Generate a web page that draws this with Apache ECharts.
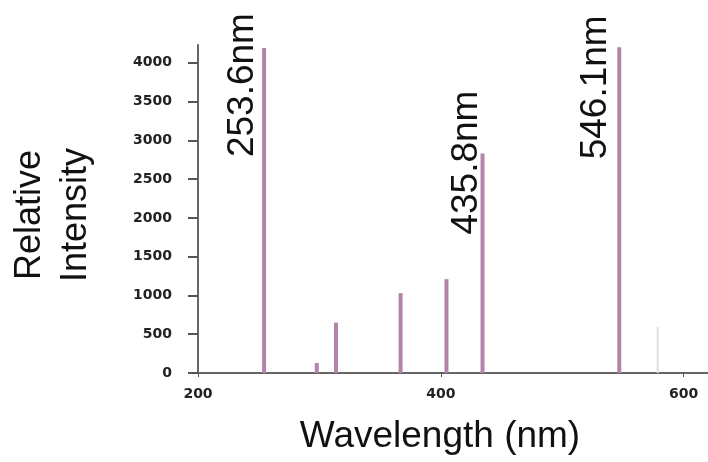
<!DOCTYPE html>
<html>
<head>
<meta charset="utf-8">
<script src="https://cdn.jsdelivr.net/npm/echarts@6/dist/echarts.min.js"></script>
<style>
  html, body { margin: 0; padding: 0; background: #fff; }
  #chart { width: 708px; height: 462px; }
</style>
</head>
<body>
<div id="chart"></div>
<script>
// 谱线数据
const wavelengths = [253.6, 297, 312.8, 366, 403.8, 433.5, 546.1]
const intensities = [4190, 130, 650, 1030, 1210, 2830, 4200]
const peakNames = ['253.6nm', '', '', '', '', '435.8nm', '546.1nm']
// 很淡的那条线
const faintWavelengths = [578.6]
const faintIntensities = [600]
// 刻度
const xTicks = [200, 400, 600]
const yTicks = [0, 500, 1000, 1500, 2000, 2500, 3000, 3500, 4000]

// 标注文字相对于柱顶的偏移
const labelOffsets = {
  '253.6nm': [35, -21],
  '435.8nm': [63, -16],
  '546.1nm': [32, -23],
}

const chart = echarts.init(document.getElementById('chart'))

const tickFont = {
  fontFamily: 'DejaVu Sans',
  fontWeight: 'bold',
  fontSize: 14,
  color: '#222',
  formatter: (v) => String(v),
}

const options = {
  animation: false,
  backgroundColor: '#fff',
  grid: { left: 198, right: 0, top: 45, bottom: 89, containLabel: false, outerBoundsMode: 'none' },
  xAxis: {
    type: 'value',
    min: 200,
    max: 620,
    interval: 200,
    name: 'Wavelength (nm)',
    nameLocation: 'middle',
    nameGap: 45,
    nameTextStyle: {
      fontFamily: 'Liberation Sans',
      fontSize: 37,
      color: '#111',
      padding: [0, 26, 0, 0],
    },
    axisLine: { lineStyle: { color: '#666', width: 2 } },
    axisTick: { show: true, length: 4, customValues: xTicks, lineStyle: { color: '#555' } },
    axisLabel: { ...tickFont, margin: 14, customValues: xTicks },
    splitLine: { show: false },
  },
  yAxis: {
    type: 'value',
    min: 0,
    max: 4230,
    interval: 500,
    name: 'Relative\nIntensity',
    nameLocation: 'middle',
    nameGap: 99,
    nameTextStyle: {
      fontFamily: 'Liberation Sans',
      fontSize: 36,
      lineHeight: 46,
      color: '#111',
      padding: [0, 12, 0, 0],
    },
    axisLine: { show: true, lineStyle: { color: '#666', width: 2 } },
    axisTick: { show: true, length: 10, customValues: yTicks, lineStyle: { color: '#555', width: 2 } },
    axisLabel: { ...tickFont, margin: 26, customValues: yTicks },
    splitLine: { show: false },
  },
  series: [
    {
      name: 'lines',
      type: 'bar',
      barWidth: 4,
      barGap: '-100%',
      itemStyle: { color: '#b384aa' },
      data: wavelengths.map((w, i) => ({
        name: peakNames[i],
        value: [w, intensities[i]],
        label: peakNames[i]
          ? {
              show: true,
              position: 'top',
              distance: 0,
              rotate: 90,
              align: 'right',
              verticalAlign: 'middle',
              offset: labelOffsets[peakNames[i]],
              formatter: (p) => p.name,
              fontFamily: 'Liberation Sans',
              fontSize: 37,
              color: '#111',
            }
          : { show: false },
      })),
    },
    {
      name: 'faint',
      type: 'bar',
      barWidth: 2,
      barGap: '-100%',
      itemStyle: { color: '#e8dce4' },
      data: faintWavelengths.map((w, i) => [w, faintIntensities[i]]),
    },
  ],
}

chart.setOption(options)
</script>
</body>
</html>
